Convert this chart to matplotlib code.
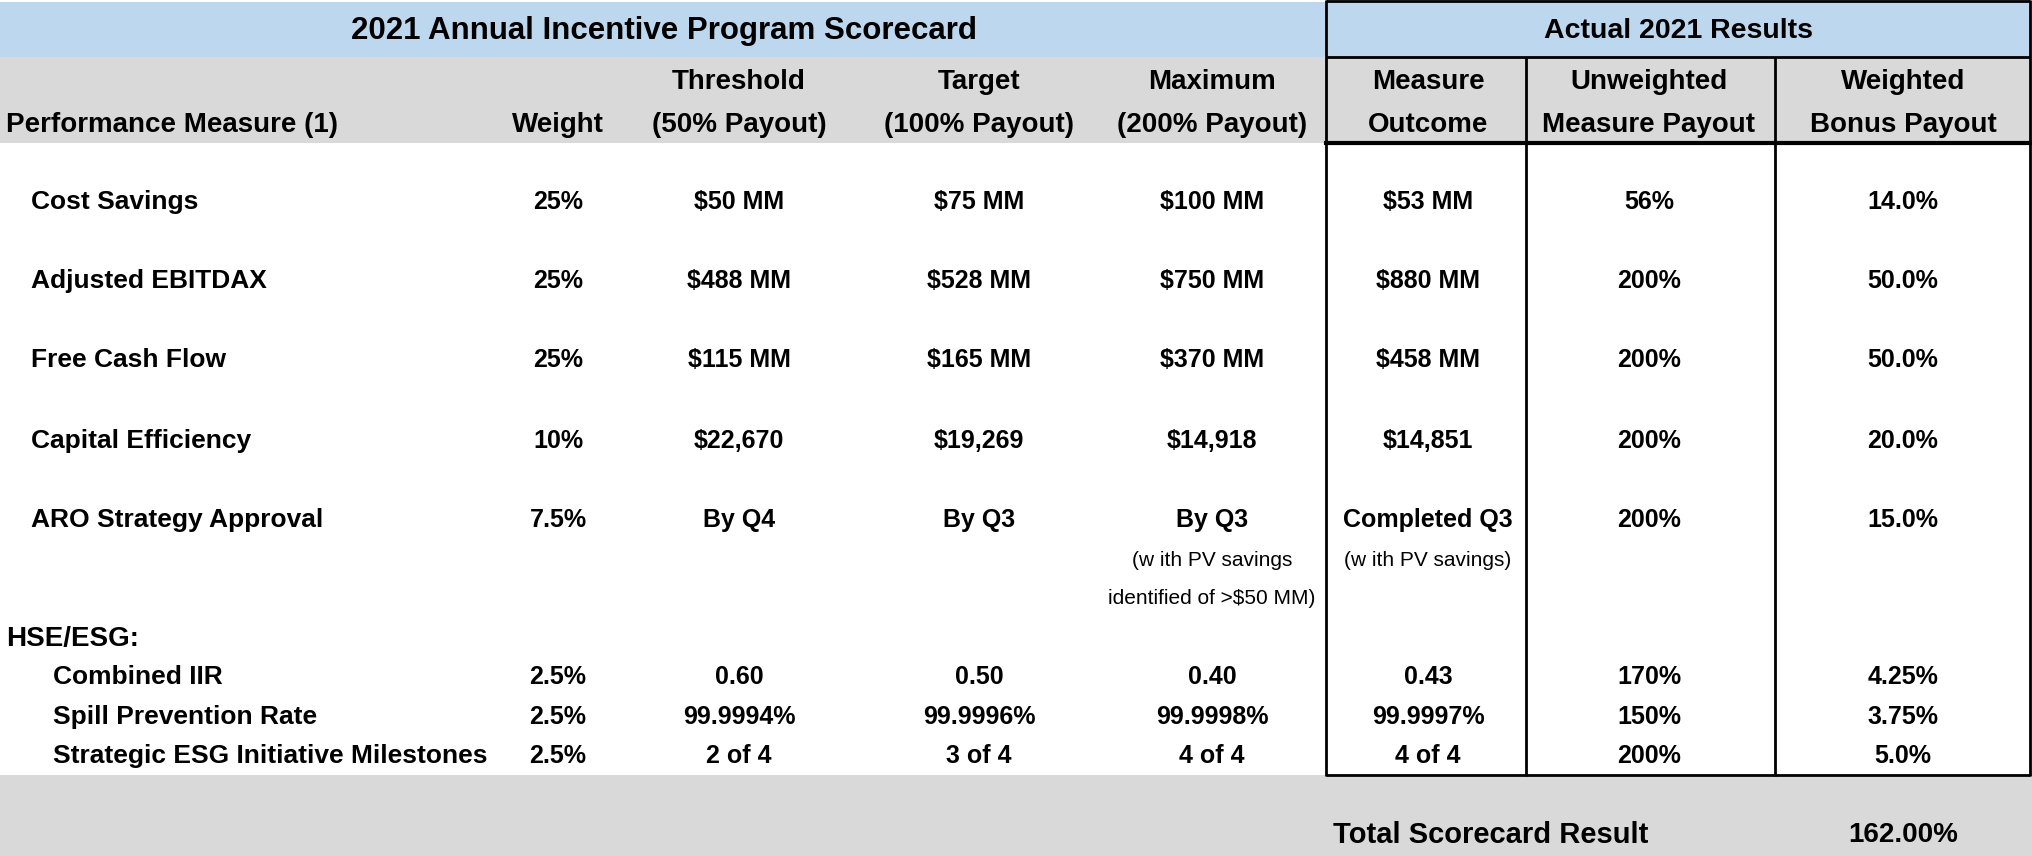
import matplotlib.pyplot as plt
from matplotlib.patches import Rectangle

plt.rcParams['font.family'] = ['Liberation Sans', 'DejaVu Sans']

measures = ["Cost Savings", "Adjusted EBITDAX", "Free Cash Flow",
            "Capital Efficiency", "ARO Strategy Approval"]
weights = ["25%", "25%", "25%", "10%", "7.5%"]
threshold = ["$50 MM", "$488 MM", "$115 MM", "$22,670", "By Q4"]
target = ["$75 MM", "$528 MM", "$165 MM", "$19,269", "By Q3"]
maximum = ["$100 MM", "$750 MM", "$370 MM", "$14,918", "By Q3"]
outcome = ["$53 MM", "$880 MM", "$458 MM", "$14,851", "Completed Q3"]
unweighted = ["56%", "200%", "200%", "200%", "200%"]
weighted = ["14.0%", "50.0%", "50.0%", "20.0%", "15.0%"]

hse_measures = ["Combined IIR", "Spill Prevention Rate",
                "Strategic ESG Initiative Milestones"]
hse_weights = ["2.5%", "2.5%", "2.5%"]
hse_threshold = ["0.60", "99.9994%", "2 of 4"]
hse_target = ["0.50", "99.9996%", "3 of 4"]
hse_maximum = ["0.40", "99.9998%", "4 of 4"]
hse_outcome = ["0.43", "99.9997%", "4 of 4"]
hse_unweighted = ["170%", "150%", "200%"]
hse_weighted = ["4.25%", "3.75%", "5.0%"]

max_note = ["(w ith PV savings", "identified of >$50 MM)"]
outcome_note = ["(w ith PV savings)"]

header_top = ["", "", "Threshold", "Target", "Maximum",
              "Measure", "Unweighted", "Weighted"]
header_bot = ["Performance Measure (1)", "Weight", "(50% Payout)",
              "(100% Payout)", "(200% Payout)", "Outcome",
              "Measure Payout", "Bonus Payout"]
total_label = "Total Scorecard Result"
total_value = "162.00%"

W, H = 2033, 856
fig = plt.figure(figsize=(W / 100, H / 100), dpi=100)
ax = fig.add_axes([0, 0, 1, 1])
ax.set_xlim(0, W)
ax.set_ylim(H, 0)
ax.axis('off')

blue = '#bdd7ee'
grey = '#d9d9d9'

# backgrounds
ax.add_patch(Rectangle((0, 2), 1326, 55, color=blue, lw=0))
ax.add_patch(Rectangle((1326, 0), 704, 57, color=blue, lw=0))
ax.add_patch(Rectangle((0, 57), 2030, 86, color=grey, lw=0))
ax.add_patch(Rectangle((0, 775), W, 81, color=grey, lw=0))

# borders of the results block
lk = dict(color='black', lw=2, solid_capstyle='butt')
ax.plot([1326, 1326], [0, 776], **lk)
ax.plot([2030, 2030], [0, 776], **lk)
ax.plot([1526, 1526], [57, 776], **lk)
ax.plot([1775, 1775], [57, 776], **lk)
ax.plot([1326, 2030], [1, 1], **lk)
ax.plot([1326, 2030], [57, 57], **lk)
ax.plot([1326, 2030], [143, 143], color='black', lw=3)
ax.plot([1326, 2030], [775, 775], **lk)

hfs = 20     # header text
lfs = 19     # row labels
vfs = 18     # values
ax.text(664, 31, "2021 Annual Incentive Program Scorecard", ha='center',
        va='center', fontsize=22.5, fontweight='bold')
ax.text(1679, 31, "Actual 2021 Results", ha='center', va='center',
        fontsize=20.5, fontweight='bold')

col_x = [6, 558, 739, 979, 1212, 1428, 1649, 1903]
for i, (t, b) in enumerate(zip(header_top, header_bot)):
    ha = 'left' if i == 0 else 'center'
    ax.text(col_x[i], 82, t, ha=ha, va='center', fontsize=hfs, fontweight='bold')
    ax.text(col_x[i], 125, b, ha=ha, va='center', fontsize=hfs, fontweight='bold')

row_y = [202, 281, 360, 441, 520]
cols = [weights, threshold, target, maximum, outcome, unweighted, weighted]
for r, y in enumerate(row_y):
    ax.text(31, y, measures[r], ha='left', va='center', fontsize=lfs,
            fontweight='bold')
    for c, vals in enumerate(cols):
        ax.text(col_x[c + 1], y, vals[r], ha='center', va='center',
                fontsize=vfs, fontweight='bold')

note_y = [560, 599]
for y, s in zip(note_y, max_note):
    ax.text(col_x[4], y, s, ha='center', va='center', fontsize=15)
for y, s in zip(note_y, outcome_note):
    ax.text(col_x[5], y, s, ha='center', va='center', fontsize=15)

ax.text(6, 639, "HSE/ESG:", ha='left', va='center', fontsize=hfs,
        fontweight='bold')
hse_y = [677, 717, 756]
hse_cols = [hse_weights, hse_threshold, hse_target, hse_maximum,
            hse_outcome, hse_unweighted, hse_weighted]
for r, y in enumerate(hse_y):
    ax.text(53, y, hse_measures[r], ha='left', va='center', fontsize=lfs,
            fontweight='bold')
    for c, vals in enumerate(hse_cols):
        ax.text(col_x[c + 1], y, vals[r], ha='center', va='center',
                fontsize=vfs, fontweight='bold')

ax.text(1491, 835, total_label, ha='center', va='center', fontsize=21,
        fontweight='bold')
ax.text(1903, 835, total_value, ha='center', va='center', fontsize=hfs,
        fontweight='bold')

plt.savefig('out.png', dpi=100)
